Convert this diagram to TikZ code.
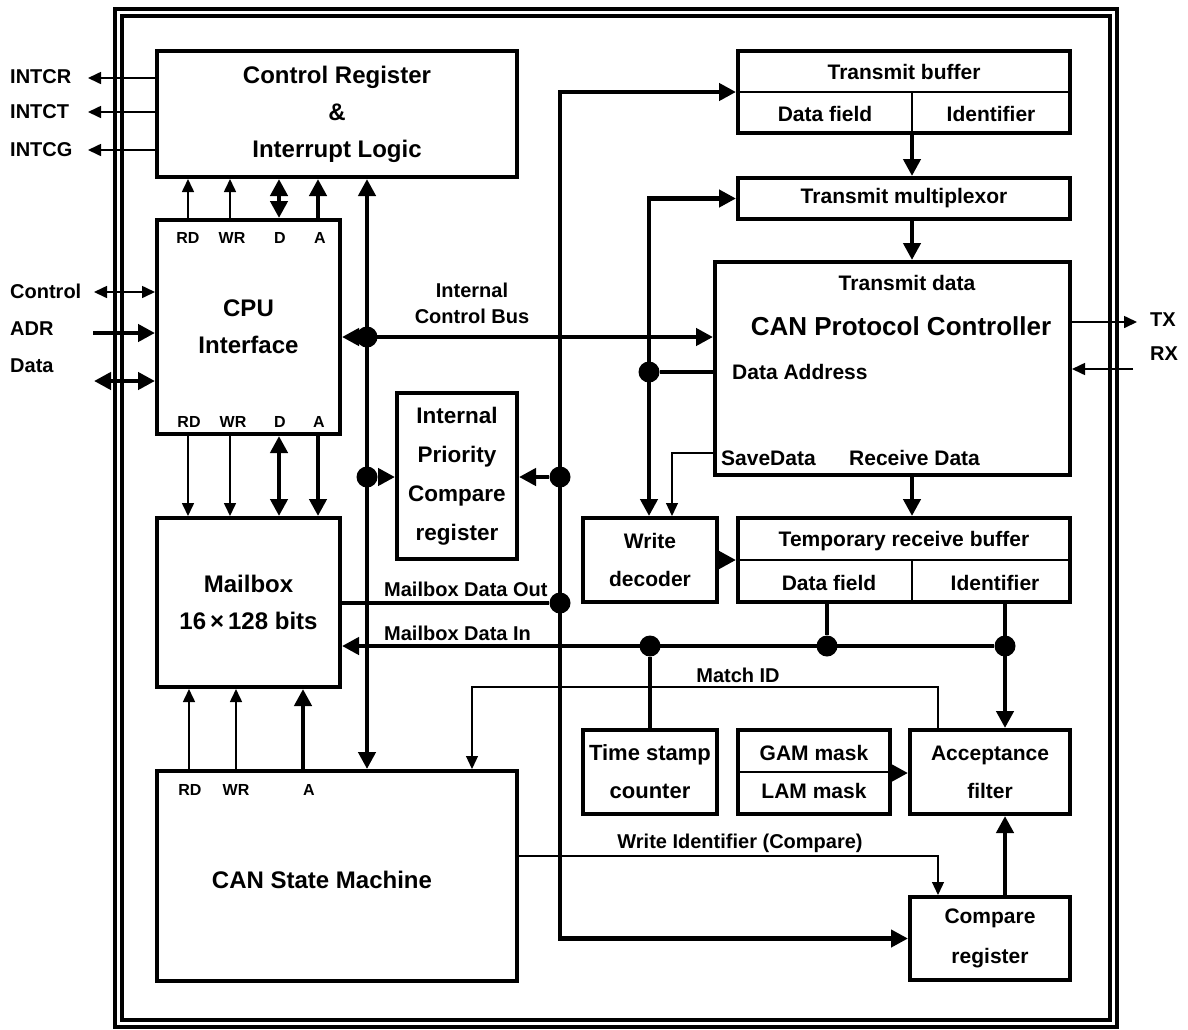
\documentclass[tikz,border=0pt]{standalone}
\usepackage{fontspec}
\setmainfont{Liberation Sans}
\usetikzlibrary{arrows.meta,calc}
\tikzset{
  TB/.tip={Triangle[length=17pt,width=17pt]},
  TS/.tip={Triangle[length=13pt,width=12pt]},
  box/.style={draw, line width=4pt, inner sep=0pt, align=center, line join=miter},
  divline/.style={line width=2pt},
  thinline/.style={line width=1.6pt},
  busline/.style={line width=4.5pt},
  thinarr/.style={line width=1.6pt, -TS},
  thindbl/.style={line width=1.6pt, TS-TS},
  thickarr/.style={line width=4.5pt, -TB},
  thickdbl/.style={line width=4.5pt, TB-TB},
  junc/.style={circle, fill, inner sep=0pt, minimum size=21pt},
  fbig/.style={font=\fontsize{24}{37}\selectfont\bfseries},
  fcpc/.style={font=\fontsize{26}{30}\selectfont\bfseries},
  fmid/.style={font=\fontsize{22.5}{39}\selectfont\bfseries},
  fbox/.style={font=\fontsize{21}{38}\selectfont\bfseries},
  flbl/.style={font=\fontsize{20}{26}\selectfont\bfseries},
  fpin/.style={font=\fontsize{16}{18}\selectfont\bfseries},
}
\begin{document}
\begin{tikzpicture}[x=1pt,y=-1pt]
\useasboundingbox (0,0) rectangle (1188,1029);
% frame
\draw[line width=3.5pt] (115,9) rectangle (1117,1027);
\draw[line width=3.5pt] (122,16) rectangle (1110,1020);

% boxes
\node[box, fbig, minimum width=360pt, minimum height=126pt] (cr) at (337,114) {Control Register\\\&\\Interrupt Logic};
\node[box, fbig, minimum width=183pt, minimum height=214pt] (cpu) at (248.5,327) {CPU\\Interface};
\node[box, fbig, minimum width=183pt, minimum height=169pt] (mb) at (248.5,602.5) {Mailbox\\16\,×\,128 bits};
\node[box, minimum width=360pt, minimum height=210pt] (sm) at (337,876) {};
\node[fbig] (smt) at (322,880) {CAN State Machine};
\node[box, fmid, minimum width=120pt, minimum height=166pt] (ipc) at (457,476) {Internal\\Priority\\Compare\\register};

\node[box, minimum width=332pt, minimum height=82pt] (tb) at (904,92) {};
\draw[divline] (tb.west) -- (tb.east);
\coordinate (cT) at (912,0);
\draw[divline] (cT |- tb.center) -- (cT |- tb.south);
\node[fbox] (tbt) at (904,72) {Transmit buffer};
\node[fbox] (tbd) at (825,114) {Data field};
\node[fbox] (tbi) at (991,114) {Identifier};

\node[box, fbox, minimum width=332pt, minimum height=41pt] (tm) at (904,198.5) {Transmit multiplexor};

\node[box, minimum width=355pt, minimum height=213pt] (cpc) at (892.5,368.5) {};
\node[fbox] (cpct) at (907,283) {Transmit data};
\node[fcpc] (cpcn) at (901,326) {CAN Protocol Controller};
\node[fbox, anchor=west, inner sep=0pt] (cpcda) at (732,372) {Data Address};
\node[fbox, anchor=west, inner sep=0pt] (cpcsd) at (721,458) {SaveData};
\node[fbox, anchor=west, inner sep=0pt] (cpcrd) at (849,458) {Receive Data};

\node[box, fbox, minimum width=134pt, minimum height=84pt] (wd) at (650,560) {Write\\decoder};
\node[box, minimum width=332pt, minimum height=84pt] (trb) at (904,560) {};
\draw[divline] (trb.west) -- (trb.east);
\draw[divline] (cT |- trb.center) -- (cT |- trb.south);
\node[fbox] (trbt) at (904,541) {Temporary receive buffer};
\node[fbox] (trbd) at (829,583) {Data field};
\node[fbox] (trbi) at (995,583) {Identifier};

\node[box, font=\fontsize{22}{38}\selectfont\bfseries, minimum width=134pt, minimum height=84pt] (tsc) at (650,772) {Time stamp\\counter};
\node[box, minimum width=152pt, minimum height=84pt] (mask) at (814,772) {};
\draw[divline] (mask.west) -- (mask.east);
\node[fbox] (gam) at (814,753) {GAM mask};
\node[fbox] (lam) at (814,791) {LAM mask};
\node[box, fbox, minimum width=160pt, minimum height=84pt] (af) at (990,772) {Acceptance\\filter};
\node[box, font=\fontsize{21}{40}\selectfont\bfseries, minimum width=160pt, minimum height=83pt] (creg) at (990,938.5) {Compare\\register};

% external labels
\node[flbl, anchor=west, inner sep=0pt] (intcr) at (10,77) {INTCR};
\node[flbl, anchor=west, inner sep=0pt] (intct) at (10,112) {INTCT};
\node[flbl, anchor=west, inner sep=0pt] (intcg) at (10,150) {INTCG};
\node[flbl, anchor=west, inner sep=0pt] (lctl) at (10,291) {Control};
\node[flbl, anchor=west, inner sep=0pt] (ladr) at (10,329) {ADR};
\node[flbl, anchor=west, inner sep=0pt] (ldata) at (10,366) {Data};
\node[flbl, anchor=west, inner sep=0pt] (ltx) at (1150,320) {TX};
\node[flbl, anchor=west, inner sep=0pt] (lrx) at (1150,354) {RX};

% pin labels
\node[fpin] (p1) at (188,238) {RD};
\node[fpin] (p2) at (232,238) {WR};
\node[fpin] (p3) at (280,238) {D};
\node[fpin] (p4) at (320,238) {A};
\node[fpin] (p5) at (189,422) {RD};
\node[fpin] (p6) at (233,422) {WR};
\node[fpin] (p7) at (280,422) {D};
\node[fpin] (p8) at (319,422) {A};
\node[fpin] (p9) at (190,790) {RD};
\node[fpin] (p10) at (236,790) {WR};
\node[fpin] (p11) at (309,790) {A};

% bus labels
\node[flbl, align=center] (icb) at (472,303) {Internal\\Control Bus};
\node[flbl, anchor=west, inner sep=0pt] (lmdo) at (384,589) {Mailbox Data Out};
\node[flbl, anchor=west, inner sep=0pt] (lmdi) at (384,633) {Mailbox Data In};
\node[flbl] (lmid) at (738,675) {Match ID};
\node[flbl] (lwid) at (740,843) {Write Identifier (Compare)};

% columns and rows
\coordinate (cRD) at (188,0);
\coordinate (cWR) at (230,0);
\coordinate (cD) at (279,0);
\coordinate (cA) at (318,0);
\coordinate (sRD) at (189,0);
\coordinate (sWR) at (236,0);
\coordinate (sA) at (303,0);
\coordinate (cBus) at (367,0);
\coordinate (cV) at (560,0);
\coordinate (cW) at (649,0);
\coordinate (cS) at (672,0);
\coordinate (cDF) at (827,0);
\coordinate (cID) at (1005,0);
\coordinate (cM) at (938,0);
\coordinate (cMs) at (472,0);

% junctions
\node[junc] (j1) at (367,337) {};
\node[junc] (j2) at (367,477) {};
\node[junc] (j3) at (560,477) {};
\node[junc] (j4) at (560,603) {};
\node[junc] (j5) at (649,372) {};
\node[junc] (j6) at (650,646) {};
\node[junc] (j7) at (827,646) {};
\node[junc] (j8) at (1005,646) {};

% interrupt outputs
\coordinate (tR) at (88,78);
\coordinate (tT) at (88,112);
\coordinate (tG) at (88,150);
\draw[thinarr] (cr.west |- tR) -- (tR);
\draw[thinarr] (cr.west |- tT) -- (tT);
\draw[thinarr] (cr.west |- tG) -- (tG);

% cpu external
\coordinate (eC) at (94,292);
\coordinate (eA) at (93,333);
\coordinate (eD) at (94,381);
\draw[thindbl] (eC) -- (cpu.west |- eC);
\draw[thickarr] (eA) -- (cpu.west |- eA);
\draw[thickdbl] (eD) -- (cpu.west |- eD);

% cpu <-> control register
\draw[thinarr] (cRD |- cpu.north) -- (cRD |- cr.south);
\draw[thinarr] (cWR |- cpu.north) -- (cWR |- cr.south);
\draw[thickdbl] (cD |- cpu.north) -- (cD |- cr.south);
\draw[thickarr] (cA |- cpu.north) -- (cA |- cr.south);

% cpu -> mailbox
\draw[thinarr] (cRD |- cpu.south) -- (cRD |- mb.north);
\draw[thinarr] (cWR |- cpu.south) -- (cWR |- mb.north);
\draw[thickdbl] (cD |- cpu.south) -- (cD |- mb.north);
\draw[thickarr] (cA |- cpu.south) -- (cA |- mb.north);

% state machine -> mailbox
\draw[thinarr] (sRD |- sm.north) -- (sRD |- mb.south);
\draw[thinarr] (sWR |- sm.north) -- (sWR |- mb.south);
\draw[thickarr] (sA |- sm.north) -- (sA |- mb.south);

% vertical control bus
\draw[thickdbl] (cBus |- cr.south) -- (cBus |- sm.north);
\draw[thickdbl] (cpu.east |- j1) -- (cpc.west |- j1);
\draw[thickarr] (j2) -- (ipc.west |- j2);
\draw[thickarr] (j3) -- (ipc.east |- j3);
\draw[busline] (mb.east |- j4) -- (j4);

% long bus at x=560
\draw[thickdbl] (tb.west) -- (cV |- tb.west) -- (cV |- creg.west) -- (creg.west);

% bus at x=649
\draw[thickdbl] (tm.west) -- (cW |- tm.west) -- (cW |- wd.north);
\draw[busline] (j5) -- (cpc.west |- j5);

% SaveData
\coordinate (ySave) at (0,453);
\draw[thinarr, line width=1.2pt] (cpc.west |- ySave) -| (cS |- wd.north);

% transmit chain
\draw[thickarr] (cT |- tb.south) -- (cT |- tm.north);
\draw[thickarr] (cT |- tm.south) -- (cT |- cpc.north);
\draw[thickarr] (cT |- cpc.south) -- (cT |- trb.north);
\draw[thickarr] (wd.east) -- (trb.west);

% TX RX
\coordinate (txTip) at (1137,322);
\coordinate (rxTail) at (1133,369);
\draw[thinarr] (cpc.east |- txTip) -- (txTip);
\draw[thinarr] (rxTail) -- (cpc.east |- rxTail);

% mailbox data in bus
\draw[busline] (cDF |- trb.south) -- (j7);
\draw[thickarr] (cID |- trb.south) -- (cID |- af.north);
\draw[thickarr] (j8) -- (mb.east |- j8);
\draw[busline] (j6) -- (j6 |- tsc.north);

% Match ID
\coordinate (yM) at (0,687);
\draw[thinarr, line width=1.2pt] (cM |- af.north) -- (cM |- yM) -- (cMs |- yM) -- (cMs |- sm.north);

% Write Identifier
\coordinate (yWI) at (0,856);
\draw[thinarr, line width=1.2pt] (sm.east |- yWI) -| (cM |- creg.north);

% compare register -> acceptance filter, masks -> filter
\draw[thickarr] (cID |- creg.north) -- (cID |- af.south);
\coordinate (yMask) at (0,773);
\draw[thickarr] (mask.east |- yMask) -- (af.west |- yMask);
\end{tikzpicture}
\end{document}
